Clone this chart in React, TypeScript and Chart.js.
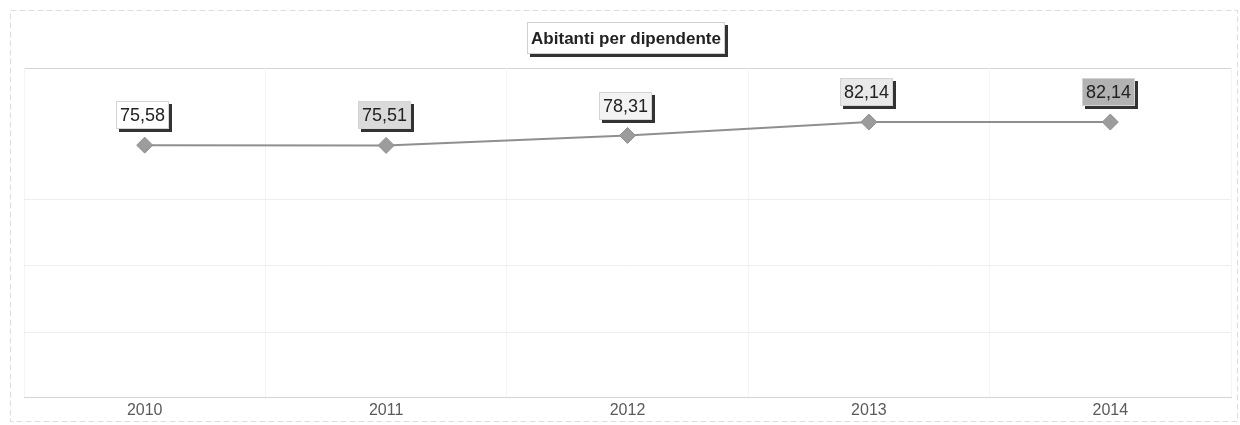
import React, { useEffect, useRef } from "react";
import { Chart, registerables } from "chart.js";

Chart.register(...registerables);

const categories = ["2010", "2011", "2012", "2013", "2014"];
const values = [75.58, 75.51, 78.31, 82.14, 82.14];
const valueLabels = ["75,58", "75,51", "78,31", "82,14", "82,14"];
const labelBackgrounds = ["#ffffff", "#dadada", "#f3f3f3", "#e9e9e9", "#b2b2b2"];
const gridValues = [22.3, 41.3, 60.2];
const titleText = "Abitanti per dipendente";

const FONT = "Arial, 'Liberation Sans', sans-serif";

const framePlugin = {
  id: "frame",
  beforeDraw(chart: any) {
    const { ctx, chartArea } = chart;
    ctx.save();
    ctx.strokeStyle = "#dddddd";
    ctx.lineWidth = 1;
    ctx.setLineDash([6, 3]);
    ctx.strokeRect(10.5, 10.5, 1227, 411);
    ctx.setLineDash([]);
    ctx.strokeStyle = "#d4d4d4";
    ctx.strokeRect(
      Math.round(chartArea.left) + 0.5,
      Math.round(chartArea.top) + 0.5,
      Math.round(chartArea.right - chartArea.left),
      Math.round(chartArea.bottom - chartArea.top)
    );
    ctx.restore();
  },
  afterDraw(chart: any) {
    const { ctx } = chart;
    ctx.save();
    // title box
    ctx.font = "bold 17px " + FONT;
    const tw = ctx.measureText(titleText).width;
    const cx = 626;
    const bx = Math.round(cx - tw / 2 - 4);
    const by = 22;
    const bw = Math.round(tw + 8);
    const bh = 32;
    ctx.fillStyle = "#333333";
    ctx.fillRect(bx + 3, by + 3, bw, bh);
    ctx.fillStyle = "#ffffff";
    ctx.fillRect(bx, by, bw, bh);
    ctx.strokeStyle = "#d0d0d0";
    ctx.lineWidth = 1;
    ctx.strokeRect(bx + 0.5, by + 0.5, bw - 1, bh - 1);
    ctx.fillStyle = "#222222";
    ctx.textAlign = "center";
    ctx.textBaseline = "middle";
    ctx.fillText(titleText, cx, by + bh / 2 + 1);

    // value labels
    const meta = chart.getDatasetMeta(0);
    ctx.font = "18px " + FONT;
    meta.data.forEach((pt: any, i: number) => {
      const text = valueLabels[i];
      const w = ctx.measureText(text).width;
      const lw = Math.round(w + 8);
      const lh = 28;
      const lx = Math.round(pt.x - 2 - lw / 2);
      const ly = Math.round(pt.y - 44);
      ctx.fillStyle = "#333333";
      ctx.fillRect(lx + 3, ly + 3, lw, lh);
      ctx.fillStyle = labelBackgrounds[i];
      ctx.fillRect(lx, ly, lw, lh);
      ctx.strokeStyle = "#d4d4d4";
      ctx.strokeRect(lx + 0.5, ly + 0.5, lw - 1, lh - 1);
      ctx.fillStyle = "#222222";
      ctx.fillText(text, lx + lw / 2, ly + lh / 2 + 1);
    });
    ctx.restore();
  },
};

export default function App() {
  const ref = useRef<HTMLCanvasElement | null>(null);

  useEffect(() => {
    document.body.style.margin = "0";
    if (!ref.current) return;
    const chart = new Chart(ref.current, {
      type: "line",
      data: {
        labels: categories,
        datasets: [
          {
            data: values,
            borderColor: "#8f8f8f",
            borderWidth: 2,
            backgroundColor: "#9a9a9a",
            pointStyle: "rectRot",
            pointRadius: 8,
            pointBackgroundColor: "#9c9c9c",
            pointBorderColor: "#909090",
            pointBorderWidth: 1,
            tension: 0,
          },
        ],
      },
      options: {
        animation: false,
        responsive: false,
        maintainAspectRatio: false,
        layout: { padding: { left: 24, right: 8, top: 68, bottom: 0 } },
        plugins: {
          legend: { display: false },
          title: { display: false },
          tooltip: { enabled: false },
        },
        scales: {
          x: {
            offset: true,
            grid: { display: true, offset: true, color: "#f4f4f4", drawTicks: false },
            border: { display: false },
            ticks: {
              color: "#5a5a5a",
              padding: 6,
              font: { family: FONT, size: 16, lineHeight: 1 },
            },
          },
          y: {
            min: 4,
            max: 97.5,
            afterBuildTicks: (scale: any) => {
              scale.ticks = gridValues.map((v) => ({ value: v }));
            },
            grid: { color: "#eeeeee", drawTicks: false },
            border: { display: false },
            ticks: { display: false },
          },
        },
      },
      plugins: [framePlugin],
    });
    return () => chart.destroy();
  }, []);

  return (
    <div style={{ width: 1240, height: 425, background: "#ffffff" }}>
      <canvas ref={ref} width={1240} height={425} style={{ width: 1240, height: 425 }} />
    </div>
  );
}
